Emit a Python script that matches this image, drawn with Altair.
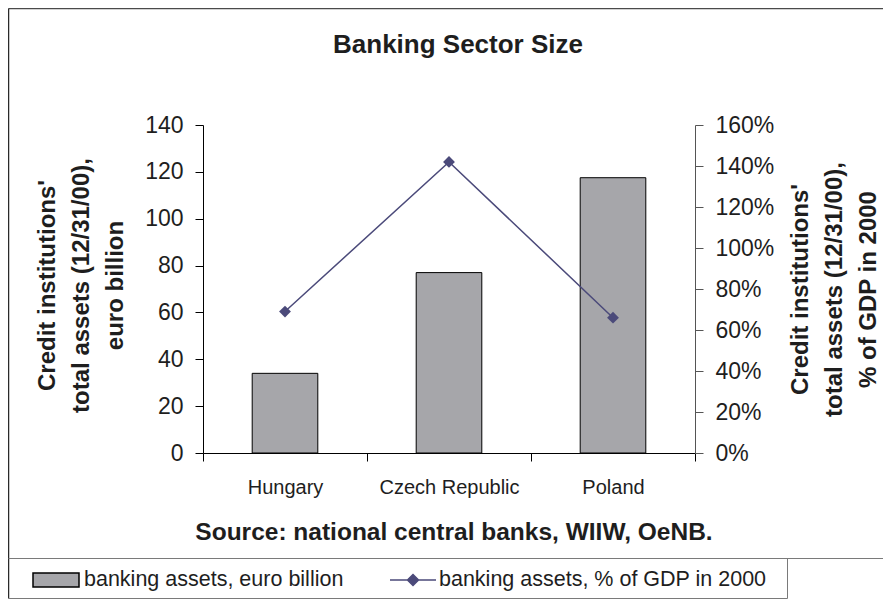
import altair as alt
import pandas as pd

# ---- data ----
countries = ["Hungary", "Czech Republic", "Poland"]
assets_eur_bn = [34.0, 77.0, 117.5]
assets_pct_gdp = [0.69, 1.42, 0.66]
bar_label = "banking assets, euro billion"
line_label = "banking assets, % of GDP in 2000"
left_ticks = [0, 20, 40, 60, 80, 100, 120, 140]
right_ticks = [0, 0.2, 0.4, 0.6, 0.8, 1.0, 1.2, 1.4, 1.6]
left_title = ["Credit institutions'", "total assets (12/31/00),", "euro billion"]
right_title = ["Credit institutions'", "total assets (12/31/00),", "% of GDP in 2000"]
chart_title = "Banking Sector Size"
source_text = "Source: national central banks, WIIW, OeNB."

FONT = "Liberation Sans"
GRAY = "#a6a6aa"
NAVY = "#4b4a7a"
TXT = "#1e1e1e"

df = pd.DataFrame({
    "country": countries,
    "assets": assets_eur_bn,
    "pct": assets_pct_gdp,
    "bar_series": [bar_label] * len(countries),
    "line_series": [line_label] * len(countries),
})

rect_path = "M-1,-0.3H1V0.3H-1Z"
line_path = "M-1,0H1M-0.24,0L0,-0.24L0.24,0L0,0.24Z"

x_axis = alt.Axis(
    title=source_text, titleFont=FONT, titleFontSize=24.5, titleFontWeight="bold",
    titleColor=TXT, titleX=250.5, titleY=86, titleBaseline="alphabetic", titleAlign="center",
    labelAngle=0, labelFont=FONT, labelFontSize=20, labelColor=TXT, labelPadding=16,
    tickSize=8, tickBand="extent", domainColor="black", tickColor="black", grid=False,
)
x_enc = alt.X("country:N", sort=countries,
              scale=alt.Scale(paddingInner=0, paddingOuter=0), axis=x_axis)

bars = alt.Chart(df).mark_bar(
    stroke="black", strokeWidth=1, width=alt.RelativeBandSize(0.4)
).encode(
    x=x_enc,
    y=alt.Y("assets:Q", scale=alt.Scale(domain=[0, 140], nice=False),
            axis=alt.Axis(
                orient="left", values=left_ticks, grid=False,
                title=left_title, titleFont=FONT, titleFontSize=24, titleFontWeight="bold",
                titleColor=TXT, titleLineHeight=34, titleAngle=270, titleX=-156, titleY=160,
                titleAlign="center", titleBaseline="middle",
                labelFont=FONT, labelFontSize=23, labelColor=TXT, labelPadding=12,
                tickSize=8, domainColor="black", tickColor="black")),
    fill=alt.Fill("bar_series:N", scale=alt.Scale(domain=[bar_label], range=[GRAY]),
                  legend=alt.Legend(
                      title=None, orient="none", legendX=-171, legendY=431, padding=0,
                      symbolType=rect_path, symbolSize=2116, symbolStrokeColor="black",
                      symbolStrokeWidth=1.5, symbolFillColor=GRAY, labelLimit=600,
                      labelFont=FONT, labelFontSize=21.5, labelColor=TXT, labelOffset=4)),
)

line = alt.Chart(df).mark_line(strokeWidth=1.5).encode(
    x=alt.X("country:N", sort=countries),
    y=alt.Y("pct:Q", scale=alt.Scale(domain=[0, 1.6], nice=False),
            axis=alt.Axis(
                orient="right", values=right_ticks, format=".0%", grid=False,
                title=right_title, titleFont=FONT, titleFontSize=24, titleFontWeight="bold",
                titleColor=TXT, titleLineHeight=34, titleAngle=270, titleX=105, titleY=164,
                titleAlign="center", titleBaseline="middle",
                labelFont=FONT, labelFontSize=23, labelColor=TXT, labelPadding=12,
                tickSize=8, domainColor="#555555", tickColor="#555555")),
    stroke=alt.Stroke("line_series:N", scale=alt.Scale(domain=[line_label], range=[NAVY]),
                      legend=alt.Legend(
                          title=None, orient="none", legendX=186, legendY=431, padding=0,
                          symbolType=line_path, symbolSize=2116, symbolStrokeColor=NAVY,
                          symbolFillColor=NAVY, symbolStrokeWidth=1.5, labelLimit=600,
                          labelFont=FONT, labelFontSize=21.5, labelColor=TXT, labelOffset=2)),
)

pts = alt.Chart(df).mark_point(shape="diamond", filled=True, size=140, color=NAVY, opacity=1).encode(
    x=alt.X("country:N", sort=countries),
    y=alt.Y("pct:Q"),
)

# frame lines around the chart area and the legend (decoration only)
frame_data = alt.Data(values=[{"b": 0}])
def frame_rule(color, width, **enc):
    return alt.Chart(frame_data).mark_rule(color=color, strokeWidth=width, clip=False).encode(
        **{k: alt.value(v) for k, v in enc.items()})

frames = [
    frame_rule("#4a4a4a", 1.3, x=-194.5, x2=720, y=-116.5),
    frame_rule("#2a2a2a", 1.5, x=-194.5, y=-116.5, y2=473.5),
    frame_rule("#7a7a7a", 1, x=-194.5, x2=720, y=433.5),
    frame_rule("#7a7a7a", 1, x=-194.5, x2=584.5, y=473.5),
    frame_rule("#7a7a7a", 1, x=584.5, y=433.5, y2=473.5),
]

chart = alt.layer(
    *frames, bars, alt.layer(line, pts)
).resolve_scale(
    y="independent", fill="independent", stroke="independent"
).properties(
    width=492, height=328,
    autosize=alt.AutoSizeParams(type="none"),
    padding={"left": 195, "top": 117, "right": 188, "bottom": 146},
    title=alt.TitleParams(chart_title, font=FONT, fontSize=26, fontWeight="bold", color=TXT,
                          anchor="middle", dx=9, offset=0, dy=71, baseline="alphabetic"),
    background="white",
).configure_view(strokeWidth=0)

chart.save("out.html", embed_options={"renderer": "svg", "actions": False})
